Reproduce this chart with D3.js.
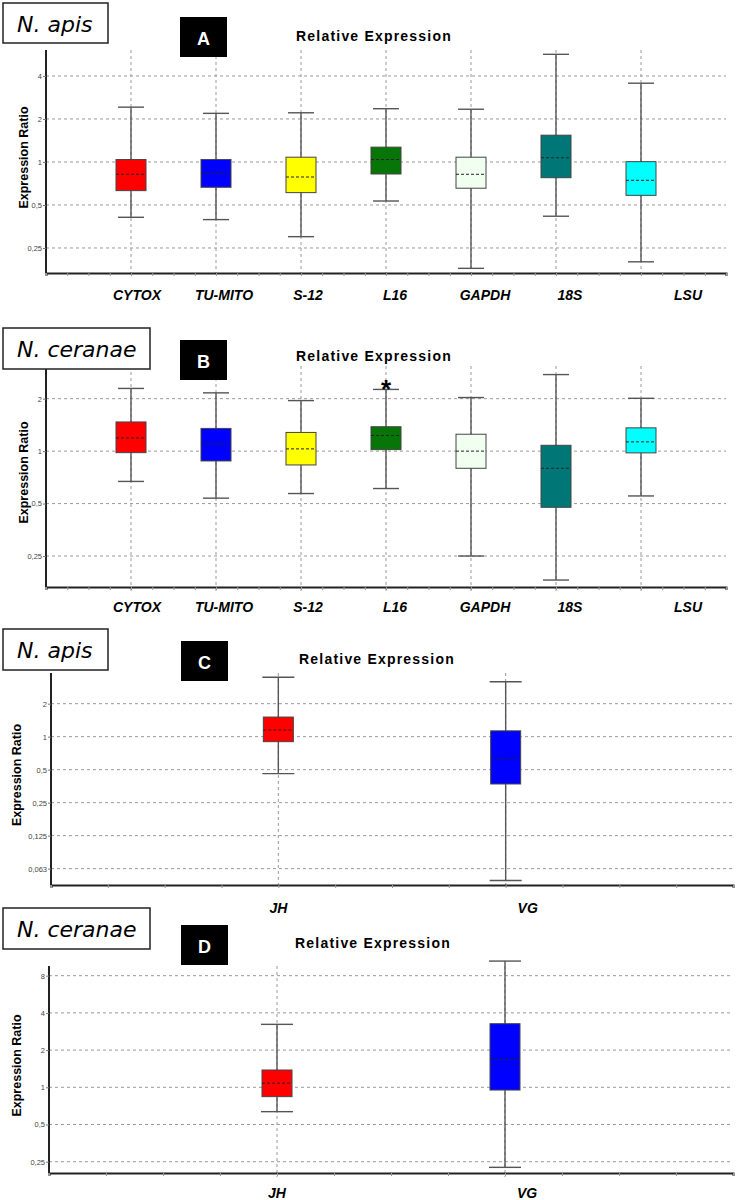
<!DOCTYPE html>
<html>
<head>
<meta charset="utf-8">
<script src="https://cdn.jsdelivr.net/npm/d3@7"></script>
<style>
  body { margin: 0; background: #fff; }
  svg { display: block; }
</style>
</head>
<body>
<svg id="fig" width="736" height="1200"></svg>
<script>
// ---- data ----
const genesAB = ["CYTOX", "TU-MITO", "S-12", "L16", "GAPDH", "18S", "LSU"];
const genesCD = ["JH", "VG"];

// A: N. apis, reference genes
const apisLow = [0.41, 0.395, 0.30, 0.533, 0.18, 0.417, 0.20];
const apisQ1 = [0.63, 0.665, 0.61, 0.824, 0.655, 0.776, 0.584];
const apisMed = [0.82, 0.83, 0.785, 1.04, 0.82, 1.07, 0.744];
const apisQ3 = [1.04, 1.04, 1.08, 1.27, 1.08, 1.54, 1.005];
const apisHigh = [2.42, 2.19, 2.21, 2.36, 2.34, 5.67, 3.56];

// B: N. ceranae, reference genes
const ceranaeLow = [0.67, 0.537, 0.571, 0.61, 0.25, 0.182, 0.553];
const ceranaeQ1 = [0.98, 0.878, 0.833, 1.02, 0.797, 0.476, 0.977];
const ceranaeMed = [1.19, 1.10, 1.03, 1.23, 1.0, 0.797, 1.13];
const ceranaeQ3 = [1.47, 1.35, 1.28, 1.38, 1.25, 1.08, 1.36];
const ceranaeHigh = [2.29, 2.16, 1.95, 2.26, 2.03, 2.75, 2.01];
const ceranaeStars = ["", "", "", "*", "", "", ""];

// C: N. apis, JH / VG
const apisHormLow = [0.46, 0.0487];
const apisHormQ1 = [0.90, 0.37];
const apisHormMed = [1.15, 0.635];
const apisHormQ3 = [1.51, 1.13];
const apisHormHigh = [3.48, 3.17];

// D: N. ceranae, JH / VG
const ceranaeHormLow = [0.635, 0.225];
const ceranaeHormQ1 = [0.84, 0.95];
const ceranaeHormMed = [1.08, 1.68];
const ceranaeHormQ3 = [1.38, 3.27];
const ceranaeHormHigh = [3.23, 10.5];

// y ticks
const ticksA = [0.25, 0.5, 1, 2, 4];
const tickLabelsA = ["0,25", "0,5", "1", "2", "4"];
const ticksB = [0.25, 0.5, 1, 2];
const tickLabelsB = ["0,25", "0,5", "1", "2"];
const ticksC = [0.0625, 0.125, 0.25, 0.5, 1, 2];
const tickLabelsC = ["0,063", "0,125", "0,25", "0,5", "1", "2"];
const ticksD = [0.25, 0.5, 1, 2, 4, 8];
const tickLabelsD = ["0,25", "0,5", "1", "2", "4", "8"];

// ---- styles ----
const colorsAB = ["#ff0000", "#0000ff", "#ffff00", "#077507", "#f0fff0", "#007777", "#00ffff"];
const colorsCD = ["#ff0000", "#0000ff"];
const labelShiftAB = [6, 8, 7, 9, 14, 14, 47];
const labelShiftCD = [0, 22];

function rows(names, low, q1, med, q3, high, colors, shift, stars) {
  return names.map((n, i) => ({
    name: n, low: low[i], q1: q1[i], med: med[i], q3: q3[i], high: high[i],
    color: colors[i], shift: shift[i], star: stars ? stars[i] : ""
  }));
}

const panels = [
  {
    species: "N. apis", letter: "A",
    rows: rows(genesAB, apisLow, apisQ1, apisMed, apisQ3, apisHigh, colorsAB, labelShiftAB),
    ticks: ticksA, tickLabels: tickLabelsA,
    left: 46, right: 726, top: 50, bottom: 273, yDomain: [0.167, 6.08],
    xMax: 8, cats: [1, 2, 3, 4, 5, 6, 7], minor: 0.25,
    spBox: [3, 3, 105, 40], letBox: [180, 17], titleY: 41, titleX: 374, labelY: 300,
    axisTitleX: 28, capHalf: 13
  },
  {
    species: "N. ceranae", letter: "B",
    rows: rows(genesAB, ceranaeLow, ceranaeQ1, ceranaeMed, ceranaeQ3, ceranaeHigh, colorsAB, labelShiftAB, ceranaeStars),
    ticks: ticksB, tickLabels: tickLabelsB,
    left: 46, right: 726, top: 366, bottom: 587, yDomain: [0.166, 3.08],
    xMax: 8, cats: [1, 2, 3, 4, 5, 6, 7], minor: 0.25,
    spBox: [3, 328, 147, 41], letBox: [180, 340], titleY: 361, titleX: 374, labelY: 612,
    axisTitleX: 28, capHalf: 13
  },
  {
    species: "N. apis", letter: "C",
    rows: rows(genesCD, apisHormLow, apisHormQ1, apisHormMed, apisHormQ3, apisHormHigh, colorsCD, labelShiftCD),
    ticks: ticksC, tickLabels: tickLabelsC,
    left: 51, right: 733, top: 673, bottom: 885, yDomain: [0.0443, 3.81],
    xMax: 12, cats: [4, 8], minor: 1,
    spBox: [3, 629, 105, 41], letBox: [181, 641], titleY: 664, titleX: 377, labelY: 913,
    axisTitleX: 21, capHalf: 16
  },
  {
    species: "N. ceranae", letter: "D",
    rows: rows(genesCD, ceranaeHormLow, ceranaeHormQ1, ceranaeHormMed, ceranaeHormQ3, ceranaeHormHigh, colorsCD, labelShiftCD),
    ticks: ticksD, tickLabels: tickLabelsD,
    left: 49, right: 733, top: 966, bottom: 1173, yDomain: [0.2025, 9.58],
    xMax: 12, cats: [4, 8], minor: 1,
    spBox: [3, 908, 147, 41], letBox: [181, 925], titleY: 948, titleX: 373, labelY: 1198,
    axisTitleX: 21, capHalf: 16
  }
];

const svg = d3.select("#fig");

function drawPanel(p) {
  const g = svg.append("g");

  const x = d3.scaleLinear().domain([0, p.xMax]).range([p.left, p.right]);
  const y = d3.scaleLog().base(2).domain(p.yDomain).range([p.bottom, p.top]);

  // horizontal grid
  g.selectAll(".hgrid")
    .data(p.ticks)
    .join("line")
    .attr("x1", p.left).attr("x2", p.right)
    .attr("y1", (d) => y(d)).attr("y2", (d) => y(d))
    .attr("stroke", "#9a9a9a").attr("stroke-dasharray", "3,3");

  // vertical grid at categories
  g.selectAll(".vgrid")
    .data(p.rows)
    .join("line")
    .attr("x1", (d, i) => x(p.cats[i])).attr("x2", (d, i) => x(p.cats[i]))
    .attr("y1", p.top).attr("y2", p.bottom + 4)
    .attr("stroke", "#9a9a9a").attr("stroke-dasharray", "3,3");

  // x axis with minor ticks
  const xTicks = d3.range(0, p.xMax + 0.001, p.minor);
  const xAxis = d3.axisBottom(x).tickValues(xTicks).tickSize(3).tickFormat("");
  const xg = g.append("g").attr("transform", `translate(0,${p.bottom})`).call(xAxis);
  xg.select(".domain").attr("stroke", "#222").attr("stroke-width", 2);
  xg.selectAll(".tick line").attr("stroke", "#999");

  // y axis
  const yAxis = d3.axisLeft(y).tickValues(p.ticks).tickSize(3)
    .tickFormat((d, i) => p.tickLabels[i]);
  const yg = g.append("g").attr("transform", `translate(${p.left},0)`).call(yAxis);
  yg.select(".domain").attr("stroke", "#222").attr("stroke-width", 2)
    .attr("d", `M0,${p.top}V${p.bottom}`);
  yg.selectAll(".tick line").attr("stroke", "#777");
  yg.selectAll(".tick text")
    .attr("font-family", "Liberation Sans, Arial, sans-serif")
    .attr("font-size", 7.5).attr("fill", "#444").attr("x", -4);

  // boxes
  const box = g.selectAll(".box").data(p.rows).join("g")
    .attr("transform", (d, i) => `translate(${x(p.cats[i])},0)`);

  box.append("line")
    .attr("y1", (d) => y(d.high)).attr("y2", (d) => y(d.low))
    .attr("stroke", "#555").attr("stroke-width", 1.4);
  box.append("line")
    .attr("x1", -p.capHalf).attr("x2", p.capHalf)
    .attr("y1", (d) => y(d.high)).attr("y2", (d) => y(d.high))
    .attr("stroke", "#555").attr("stroke-width", 1.4);
  box.append("line")
    .attr("x1", -p.capHalf).attr("x2", p.capHalf)
    .attr("y1", (d) => y(d.low)).attr("y2", (d) => y(d.low))
    .attr("stroke", "#555").attr("stroke-width", 1.4);
  box.append("rect")
    .attr("x", -15).attr("width", 30)
    .attr("y", (d) => y(d.q3))
    .attr("height", (d) => y(d.q1) - y(d.q3))
    .attr("fill", (d) => d.color)
    .attr("stroke", "#444").attr("stroke-width", 1);
  box.append("line")
    .attr("x1", -15).attr("x2", 15)
    .attr("y1", (d) => y(d.med)).attr("y2", (d) => y(d.med))
    .attr("stroke", "#222").attr("stroke-width", 1).attr("stroke-dasharray", "3,2");
  // significance mark: asterisk glyph sits high in its em box
  box.filter((d) => d.star)
    .append("text")
    .attr("y", (d) => y(d.high) + 9)
    .attr("text-anchor", "middle")
    .attr("font-family", "Liberation Sans, Arial, sans-serif")
    .attr("font-weight", "bold").attr("font-size", 26)
    .text((d) => d.star);

  // category labels
  g.selectAll(".cat").data(p.rows).join("text")
    .attr("x", (d, i) => x(p.cats[i]) + d.shift)
    .attr("y", p.labelY)
    .attr("text-anchor", "middle")
    .attr("font-family", "Liberation Sans, Arial, sans-serif")
    .attr("font-weight", "bold").attr("font-style", "italic")
    .attr("font-size", 14)
    .text((d) => d.name);

  // y title
  g.append("text")
    .attr("transform", `translate(${p.axisTitleX},${(p.top + p.bottom) / 2 - 4}) rotate(-90)`)
    .attr("text-anchor", "middle")
    .attr("font-family", "Liberation Sans, Arial, sans-serif")
    .attr("font-weight", "bold").attr("font-size", 12.5)
    .text("Expression Ratio");

  // chart title
  g.append("text")
    .attr("x", p.titleX).attr("y", p.titleY)
    .attr("text-anchor", "middle")
    .attr("font-family", "Liberation Sans, Arial, sans-serif")
    .attr("font-weight", "bold").attr("font-size", 14)
    .attr("letter-spacing", 1.2)
    .text("Relative Expression");

  // species box
  const [sx, sy, sw, sh] = p.spBox;
  g.append("rect")
    .attr("x", sx).attr("y", sy).attr("width", sw).attr("height", sh)
    .attr("fill", "#fff").attr("stroke", "#222").attr("stroke-width", 1.5);
  g.append("text")
    .attr("x", sx + 14).attr("y", sy + 29)
    .attr("font-family", "DejaVu Sans, Verdana, sans-serif")
    .attr("font-style", "italic").attr("font-size", 22)
    .text(p.species);

  // letter box
  const [lx, ly] = p.letBox;
  g.append("rect")
    .attr("x", lx).attr("y", ly).attr("width", 47).attr("height", 40)
    .attr("fill", "#000");
  g.append("text")
    .attr("x", lx + 23.5).attr("y", ly + 28)
    .attr("text-anchor", "middle")
    .attr("font-family", "Liberation Sans, Arial, sans-serif")
    .attr("font-weight", "bold").attr("font-size", 18)
    .attr("fill", "#fff")
    .text(p.letter);
}

panels.forEach(drawPanel);
</script>
</body>
</html>
